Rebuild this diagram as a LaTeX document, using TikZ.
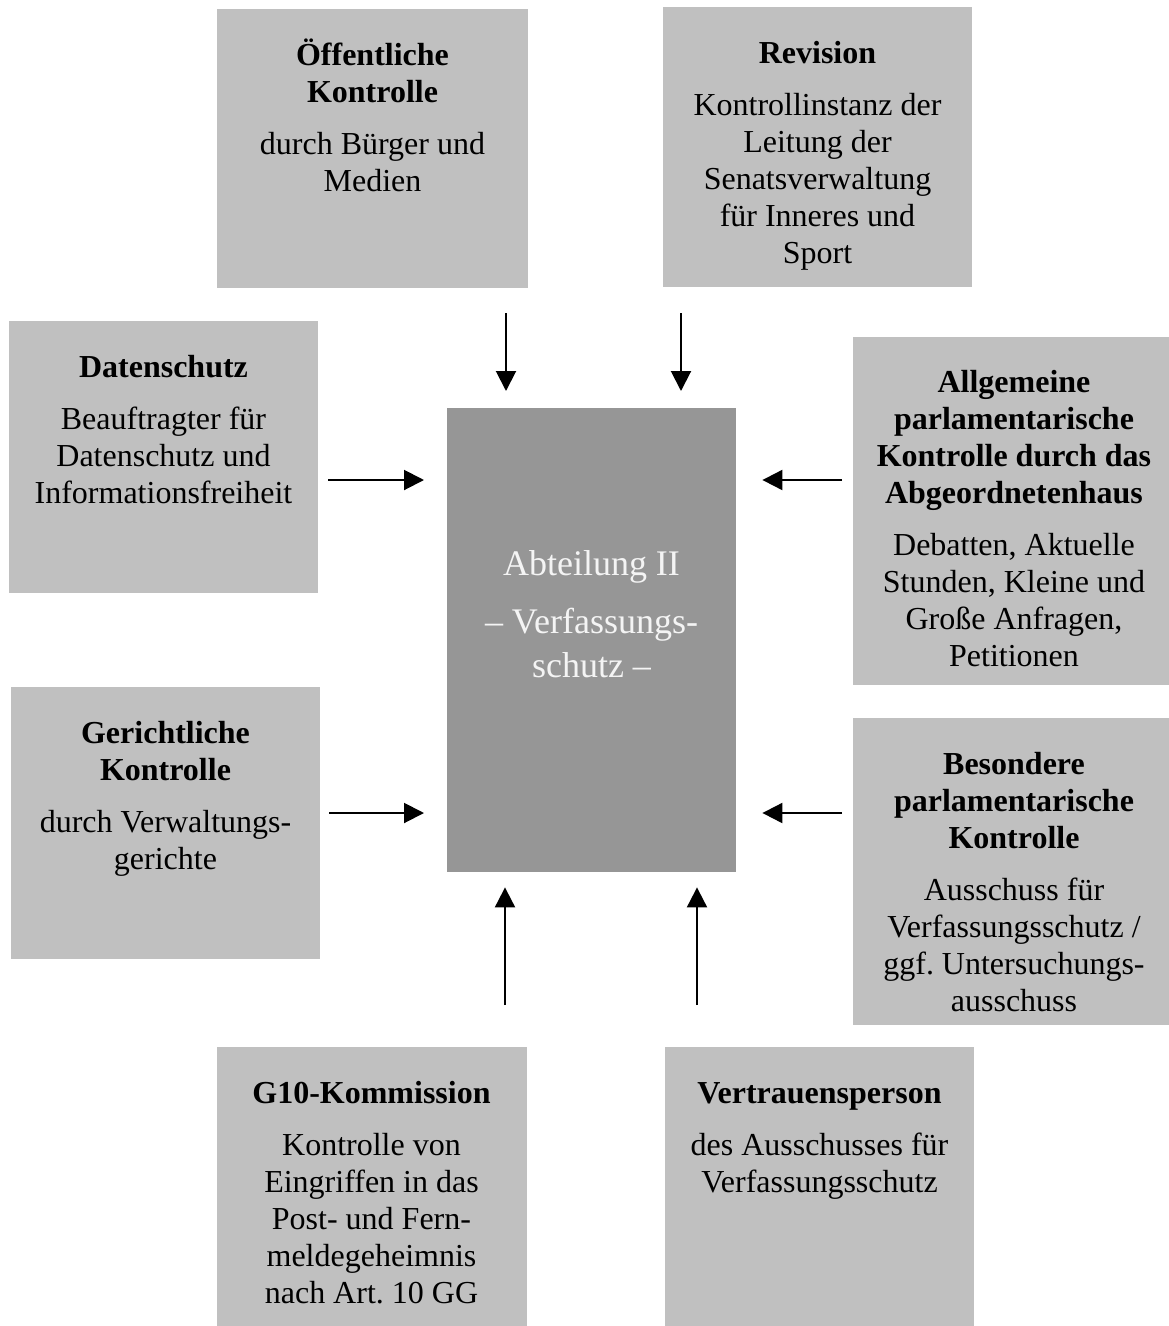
\documentclass[tikz,border=0pt]{standalone}
\usepackage{fontspec}
\setmainfont{Liberation Serif}
\usetikzlibrary{arrows.meta}
\definecolor{boxgray}{HTML}{C0C0C0}
\definecolor{centergray}{HTML}{969696}
\definecolor{centertext}{HTML}{F4F4F4}
\frenchspacing
\begin{document}
\frenchspacing
\begin{tikzpicture}[x=1pt,y=-1pt,
  box/.style={rectangle, fill=boxgray, draw=none, inner sep=0pt, anchor=north west},
  txt/.style={anchor=north, inner sep=0pt, align=center, font=\fontsize{32}{37}\selectfont},
  ctxt/.style={anchor=north, inner sep=0pt, align=center, text=centertext, font=\fontsize{36}{44}\selectfont},
  arr/.style={line width=2pt, -{Triangle[length=20pt,width=20pt]}}]
\useasboundingbox (0,0) rectangle (1169,1326);

% boxes
\node[box, minimum width=311pt, minimum height=279pt] (oeff) at (217,9) {};
\node[box, minimum width=309pt, minimum height=280pt] (rev) at (663,7) {};
\node[box, minimum width=309pt, minimum height=272pt] (daten) at (9,321) {};
\node[box, minimum width=322pt, minimum height=348pt] (allg) at (853,337) {};
\node[box, fill=centergray, minimum width=289pt, minimum height=464pt] (zentrum) at (447,408) {};
\node[box, minimum width=309pt, minimum height=272pt] (ger) at (11,687) {};
\node[box, minimum width=322pt, minimum height=307pt] (bes) at (853,718) {};
\node[box, minimum width=310pt, minimum height=283pt] (g10) at (217,1047) {};
\node[box, minimum width=309pt, minimum height=283pt] (vert) at (665,1047) {};

% texts
\node[txt] (oeffT) at (372.5,35) {\rule{0pt}{30pt}\textbf{Öffentliche}\\\textbf{Kontrolle}\\[15pt]durch Bürger und\\Medien};
\node[txt] (revT) at (817.5,33) {\rule{0pt}{30pt}\textbf{Revision}\\[15pt]Kontrollinstanz der\\Leitung der\\Senatsverwaltung\\für Inneres und\\Sport};
\node[txt] (datenT) at (163.5,347) {\rule{0pt}{30pt}\textbf{Datenschutz}\\[15pt]Beauftragter für\\Datenschutz und\\Informationsfreiheit};
\node[txt] (allgT) at (1014,362) {\rule{0pt}{30pt}\textbf{Allgemeine}\\\textbf{parlamentarische}\\\textbf{Kontrolle durch das}\\\textbf{Abgeordnetenhaus}\\[15pt]Debatten, Aktuelle\\Stunden, Kleine und\\Große Anfragen,\\Petitionen};
\node[ctxt] (zentrumT) at (591.5,542) {\rule{0pt}{33pt}Abteilung II\\[14pt]– Verfassungs-\\schutz –};
\node[txt] (gerT) at (165.5,713) {\rule{0pt}{30pt}\textbf{Gerichtliche}\\\textbf{Kontrolle}\\[15pt]durch Verwaltungs-\\gerichte};
\node[txt] (besT) at (1014,744) {\rule{0pt}{30pt}\textbf{Besondere}\\\textbf{parlamentarische}\\\textbf{Kontrolle}\\[15pt]Ausschuss für\\Verfassungsschutz /\\ggf. Untersuchungs-\\ausschuss};
\node[txt] (g10T) at (371.5,1073) {\rule{0pt}{30pt}\textbf{G10-Kommission}\\[15pt]Kontrolle von\\Eingriffen in das\\Post- und Fern-\\meldegeheimnis\\nach Art. 10 GG};
\node[txt] (vertT) at (819.5,1073) {\rule{0pt}{30pt}\textbf{Vertrauensperson}\\[15pt]des Ausschusses für\\Verfassungsschutz};

% arrow guide coordinates
\coordinate (cA) at (506,0);
\coordinate (cB) at (681,0);
\coordinate (cC) at (0,480);
\coordinate (cD) at (0,813);
\coordinate (cE) at (505,0);
\coordinate (cF) at (697,0);

% arrows
\draw[arr, shorten <=25pt, shorten >=17pt] (oeff.south -| cA) -- (zentrum.north -| cA);
\draw[arr, shorten <=26pt, shorten >=17pt] (rev.south -| cB) -- (zentrum.north -| cB);
\draw[arr, shorten <=10pt, shorten >=23pt] (daten.east |- cC) -- (zentrum.west |- cC);
\draw[arr, shorten <=11pt, shorten >=26pt] (allg.west |- cC) -- (zentrum.east |- cC);
\draw[arr, shorten <=9pt, shorten >=23pt] (ger.east |- cD) -- (zentrum.west |- cD);
\draw[arr, shorten <=11pt, shorten >=26pt] (bes.west |- cD) -- (zentrum.east |- cD);
\draw[arr, shorten <=42pt, shorten >=15pt] (g10.north -| cE) -- (zentrum.south -| cE);
\draw[arr, shorten <=42pt, shorten >=15pt] (vert.north -| cF) -- (zentrum.south -| cF);
\end{tikzpicture}
\end{document}
